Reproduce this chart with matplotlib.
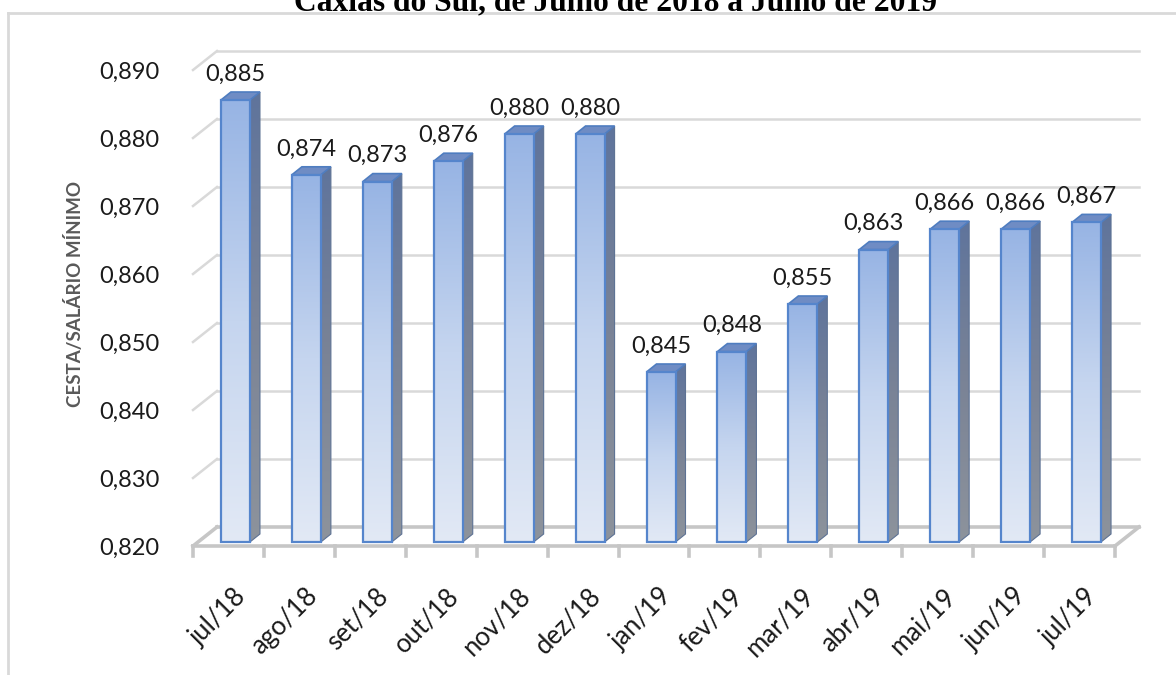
import numpy as np
import matplotlib
matplotlib.use("Agg")
import matplotlib.pyplot as plt
from matplotlib.colors import LinearSegmentedColormap
from matplotlib.patches import Polygon, Rectangle
from matplotlib.lines import Line2D

# Dados: cesta basica / salario minimo, Caxias do Sul
meses = ["jul/18", "ago/18", "set/18", "out/18", "nov/18", "dez/18",
         "jan/19", "fev/19", "mar/19", "abr/19", "mai/19", "jun/19", "jul/19"]
valores = [0.885, 0.874, 0.873, 0.876, 0.880, 0.880,
           0.845, 0.848, 0.855, 0.863, 0.866, 0.866, 0.867]
y_ticks = [0.820, 0.830, 0.840, 0.850, 0.860, 0.870, 0.880, 0.890]

titulo = "Caxias do Sul, de Julho de 2018 a Julho de 2019"
y_label = "CESTA/SALÁRIO MÍNIMO"

W, H = 1176, 675
fig = plt.figure(figsize=(W / 100, H / 100), dpi=100)

# front plane of the 3d box, in pixels
left, right, bottom, top = 193, 1115, 546, 70
ax = fig.add_axes([left / W, 1 - bottom / H, (right - left) / W, (bottom - top) / H])
x_lo, x_hi = -0.5, len(meses) - 0.5
y_lo, y_hi = y_ticks[0], y_ticks[-1]

# pixel -> data unit helpers
ppx = (right - left) / (x_hi - x_lo)
ppy = (bottom - top) / (y_hi - y_lo)
def dx(px):
    return px / ppx
def dy(px):
    return px / ppy

DX, DY = dx(24), dy(19)        # depth of the box
grid_c = "#d9d9d9"
floor_c = "#c6c6c6"

# back wall gridlines + left side slants
for v in y_ticks[1:]:
    ax.plot([x_lo + DX, x_hi + DX], [v + DY, v + DY], color=grid_c, lw=1.8,
            clip_on=False, zorder=1)
    ax.plot([x_lo, x_lo + DX], [v, v + DY], color=grid_c, lw=1.8,
            clip_on=False, zorder=1)

# floor
ax.plot([x_lo, x_hi], [y_lo, y_lo], color=floor_c, lw=2.6, clip_on=False, zorder=1)
ax.plot([x_lo + DX, x_hi + DX], [y_lo + DY, y_lo + DY], color=floor_c, lw=2.6,
        clip_on=False, zorder=1)
ax.plot([x_lo, x_lo + DX], [y_lo, y_lo + DY], color=floor_c, lw=2.6, clip_on=False, zorder=1)
ax.plot([x_hi, x_hi + DX], [y_lo, y_lo + DY], color=floor_c, lw=2.6, clip_on=False, zorder=1)
for k in range(len(meses) + 1):
    xb = x_lo + k
    ax.plot([xb, xb], [y_lo, y_lo - dy(10)], color=floor_c, lw=2.6, clip_on=False, zorder=1)

# bars
front_cmap = LinearSegmentedColormap.from_list("front", ["#e2e9f5", "#c5d5ef", "#97b4e4"])
side_cmap = LinearSegmentedColormap.from_list("side", ["#8d939c", "#7a8396", "#5f749c"])
grad = np.linspace(0, 1, 256).reshape(-1, 1)

bw = dx(29)
bx, by = dx(7), dy(4)
sdx, sdy = dx(10), dy(8)

for i, v in enumerate(valores):
    x0 = i + bx - bw / 2
    x1 = x0 + bw
    y0 = y_lo + by
    y1 = v + by

    # side face
    side = Polygon([(x1, y0), (x1 + sdx, y0 + sdy), (x1 + sdx, y1 + sdy), (x1, y1)],
                   closed=True, facecolor="none", edgecolor="#5d7294", lw=0.8, zorder=3)
    ax.add_patch(side)
    im = ax.imshow(grad, extent=[x1, x1 + sdx, y0, y1 + sdy], origin="lower",
                   aspect="auto", cmap=side_cmap, zorder=2.9)
    im.set_clip_path(side)

    # top face
    ax.add_patch(Polygon([(x0, y1), (x1, y1), (x1 + sdx, y1 + sdy), (x0 + sdx, y1 + sdy)],
                         closed=True, facecolor="#6f8cc4", edgecolor="#4f7dc0",
                         lw=1.2, zorder=3))

    # front face
    ax.imshow(grad, extent=[x0, x1, y0, y1], origin="lower", aspect="auto",
              cmap=front_cmap, zorder=4)
    ax.add_patch(Rectangle((x0, y0), bw, y1 - y0, facecolor="none",
                           edgecolor="#5585cc", lw=1.6, zorder=5))

    ax.annotate(f"{v:.3f}".replace(".", ","), xy=(i + bx, y1), xytext=(0, 11),
                textcoords="offset points", ha="center", va="bottom",
                fontsize=17, family="Lato", color="#1a1a1a", zorder=6)

ax.set_xlim(x_lo, x_hi)
ax.set_ylim(y_lo, y_hi)
for s in ax.spines.values():
    s.set_visible(False)
ax.set_facecolor("none")

ax.set_yticks(y_ticks, [f"{t:.3f}".replace(".", ",") for t in y_ticks])
ax.tick_params(axis="y", length=0, pad=24, labelsize=17, labelcolor="#1a1a1a")
for lab in ax.get_yticklabels():
    lab.set_family("Lato")

ax.set_xticks(np.arange(len(meses)) + dx(5), meses)
ax.tick_params(axis="x", length=0, pad=27, labelsize=18.5, labelcolor="#1a1a1a")
for lab in ax.get_xticklabels():
    lab.set_family("Lato")
    lab.set_rotation(45)
    lab.set_ha("right")
    lab.set_va("top")
    lab.set_rotation_mode("anchor")

fig.text(75 / W, 1 - 294 / H, y_label, rotation=90, ha="center", va="center",
         fontsize=13.5, fontweight="bold", family="Lato", color="#595959")

# chart border (cut by the page)
fig.add_artist(Line2D([8 / W, 8 / W], [0, 1 - 13 / H], color="#d9d9d9", lw=2))
fig.add_artist(Line2D([8 / W, 1], [1 - 13 / H, 1 - 13 / H], color="#d9d9d9", lw=2))

fig.text(615 / W, 1 - 10 / H, titulo, ha="center", va="baseline", fontsize=22.7,
         fontweight="bold", family="Liberation Serif", color="black")

fig.savefig("out.png", dpi=100, facecolor="white")
